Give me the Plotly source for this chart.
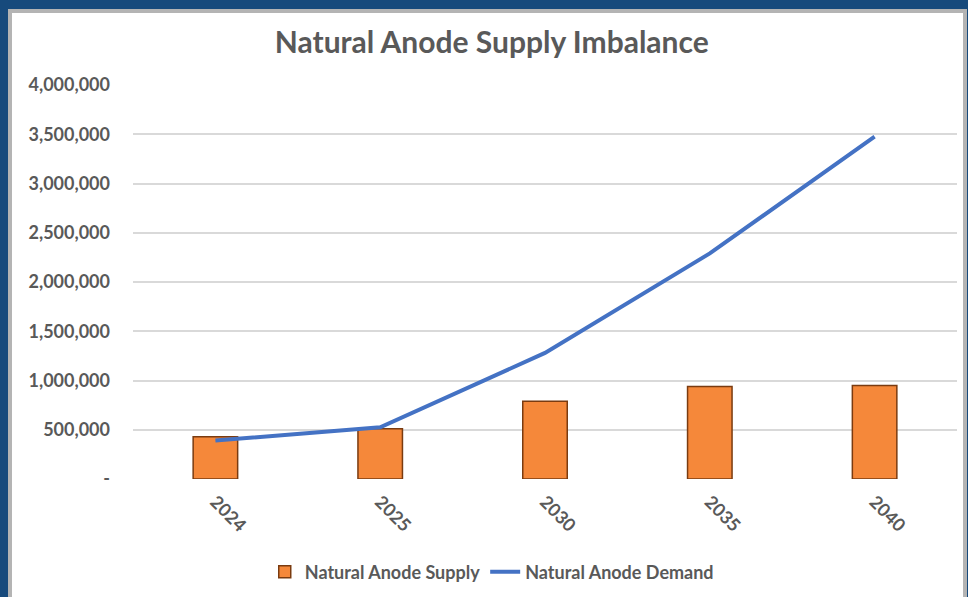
import plotly.graph_objects as go

years = ["2024", "2025", "2030", "2035", "2040"]
supply = [430000, 510000, 790000, 940000, 950000]
demand = [390000, 525000, 1280000, 2290000, 3475000]
y_ticks = [0, 500000, 1000000, 1500000, 2000000, 2500000, 3000000, 3500000, 4000000]
y_tick_text = ["-", "500,000", "1,000,000", "1,500,000", "2,000,000", "2,500,000",
               "3,000,000", "3,500,000", "4,000,000"]

W, H = 968, 597
L, R, T, B = 133, 11, 85, 118
pw, ph = W - L - R, H - T - B

def px_x(p):
    return (p - L) / pw

def px_y(p):
    return (H - B - p) / ph

GRAY = "#595959"
FONT = "Lato"

fig = go.Figure()
fig.add_trace(go.Bar(
    x=years, y=supply, name="Natural Anode Supply",
    width=0.27,
    marker=dict(color="#F5883A", line=dict(color="#7A3B10", width=1.5)),
))
fig.add_trace(go.Scatter(
    x=years, y=demand, name="Natural Anode Demand", mode="lines",
    line=dict(color="#4472C4", width=4),
))

fig.update_layout(
    width=W, height=H,
    margin=dict(l=L, r=R, t=T, b=B, autoexpand=False),
    paper_bgcolor="#174A7C",
    plot_bgcolor="rgba(0,0,0,0)",
    title=dict(text="Natural Anode Supply Imbalance", x=0.508, xanchor="center",
               y=1 - 42 / H, yanchor="middle",
               font=dict(family=FONT, size=30, color=GRAY, weight="bold")),
    font=dict(family=FONT, color=GRAY),
    showlegend=True,
    legend=dict(orientation="h", x=0.508, xanchor="center", xref="container",
                y=px_y(572), yanchor="middle",
                font=dict(family=FONT, size=18, color=GRAY, weight="bold"),
                bgcolor="rgba(0,0,0,0)", itemwidth=30),
    shapes=[dict(type="rect", xref="paper", yref="paper", layer="below",
                 x0=px_x(10), x1=px_x(965), y0=px_y(599), y1=px_y(11),
                 fillcolor="white", line=dict(color="#B4B4B4", width=4))],
)
fig.update_xaxes(showgrid=False, showline=False, ticks="", tickangle=45,
                 tickfont=dict(family=FONT, size=18, color=GRAY, weight="bold"),
                 ticklabelstandoff=8)
fig.update_yaxes(range=[0, 4000000], tickvals=y_ticks, ticktext=y_tick_text,
                 showgrid=True, gridcolor="#D9D9D9", gridwidth=1.5,
                 zeroline=False, showline=False,
                 tickfont=dict(family=FONT, size=18, color=GRAY, weight="bold"),
                 ticklabelstandoff=22)

fig.write_html("out.html", config={"displayModeBar": False},
               post_script="document.body.style.margin='0';document.body.style.overflow='hidden';")
